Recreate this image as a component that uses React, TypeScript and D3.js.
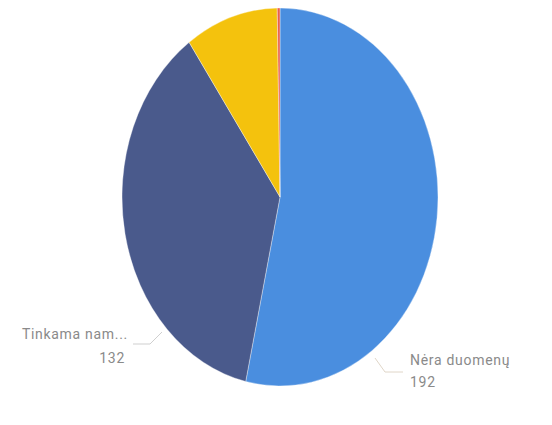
import React from "react";
import * as d3 from "d3";

const categories = ["Nėra duomenų", "Tinkama nam...", "Kita", "Netinkama"];
const values = [192, 132, 34, 1];
const colors = ["#4A8EDF", "#4A5A8C", "#F4C20D", "#E8604C"];
const labelIdx = [0, 1];

const W = 552;
const H = 425;
const CX = 280;
const CY = 197;
const RX = 158;
const RY = 189;

export default function App() {
  const pie = d3.pie<number>().sort(null).value((d) => d)(values);
  const arc = d3.arc<d3.PieArcDatum<number>>().innerRadius(0).outerRadius(RY);
  const font = "Roboto, sans-serif";

  return (
    <div style={{ position: "fixed", left: 0, top: 0 }}>
      <svg width={W} height={H} style={{ display: "block", background: "#fff" }}>
        <g transform={`translate(${CX},${CY}) scale(${RX / RY},1)`}>
          {pie.map((p, i) => (
            <path key={i} d={arc(p) || ""} fill={colors[i]} stroke="#ffffff" strokeWidth={0.4} />
          ))}
        </g>
        {/* Tinkama label */}
        <polyline points="162,332 150,344 133,344" fill="none" stroke="#cfcfcf" strokeWidth={1} />
        <text x={128} y={339} textAnchor="end" fontFamily={font} fontSize={14} letterSpacing={0.7} fill="#8a8a8a">
          {categories[labelIdx[1]]}
        </text>
        <text x={125} y={363} textAnchor="end" fontFamily={font} fontSize={14} letterSpacing={0.7} fill="#8a8a8a">
          {values[labelIdx[1]]}
        </text>
        {/* Nera label */}
        <polyline points="375,358 385,372 403,372" fill="none" stroke="#e0d6c8" strokeWidth={1} />
        <text x={410} y={365} textAnchor="start" fontFamily={font} fontSize={14} letterSpacing={0.7} fill="#8a8a8a">
          {categories[labelIdx[0]]}
        </text>
        <text x={410} y={387} textAnchor="start" fontFamily={font} fontSize={14} letterSpacing={0.7} fill="#8a8a8a">
          {values[labelIdx[0]]}
        </text>
      </svg>
    </div>
  );
}
